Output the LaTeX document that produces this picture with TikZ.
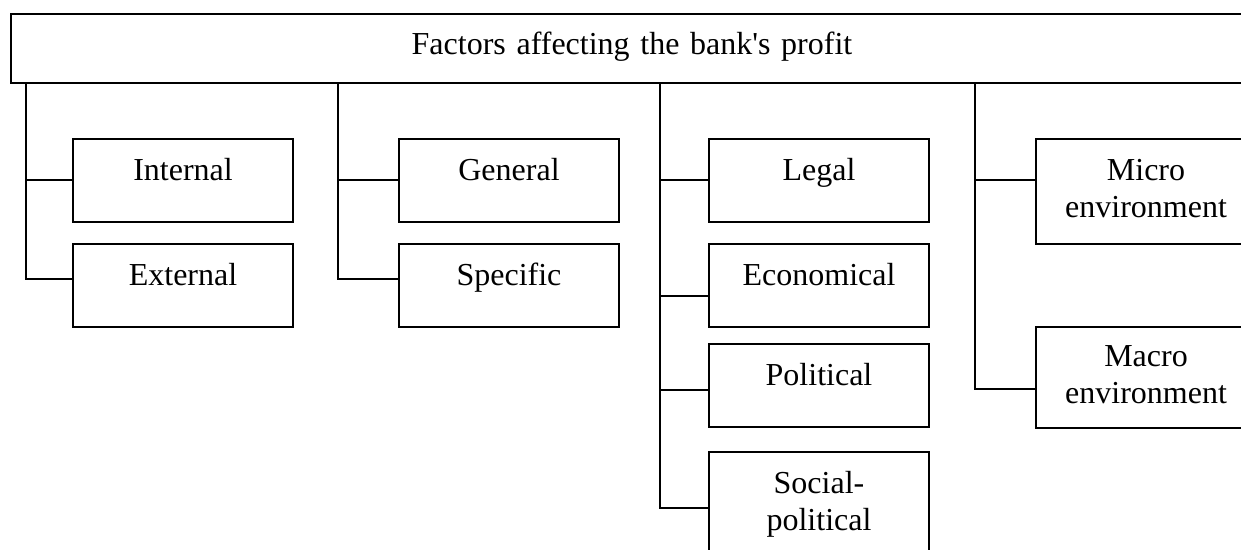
\documentclass[tikz,border=0pt]{standalone}
\usepackage{fontspec}
\setmainfont{Liberation Serif}
\begin{document}
\begin{tikzpicture}[x=1pt,y=-1pt,
  box/.style={draw, line width=2pt, anchor=north west, inner sep=0pt,
    text width=220pt, align=center, text height=41pt, text depth=#1,
    font=\fontsize{32}{37}\selectfont},
  box/.default=42pt,
  link/.style={line width=2pt}]
\clip (0,0) rectangle (1241,549);
\fill[white] (0,0) rectangle (1241,549);

% heading
\node[box=29pt, text width=1242pt, text height=40pt] (top) at (10,13)
  {Factors affecting the bank\textquotesingle s profit};

% groups of factors
\node[box] (internal) at (72,138) {Internal};
\node[box] (external) at (72,243) {External};

\node[box] (general)  at (398,138) {General};
\node[box] (specific) at (398,243) {Specific};

\node[box] (legal)  at (708,138) {Legal};
\node[box] (econ)   at (708,243) {Economical};
\node[box] (polit)  at (708,343) {Political};
\node[box=64pt] (social) at (708,451) {Social-\\political};

\node[box=64pt] (micro) at (1035,138) {Micro\\environment};
\node[box=62pt, text height=39pt] (macro) at (1035,326) {Macro\\environment};

% branch 1
\draw[link] (top.south -| 26,0) |- ([yshift=6.5pt]external.west);
\draw[link] ([yshift=0.5pt]internal.west) -- ++(-46,0);

% branch 2
\draw[link] (top.south -| 338,0) |- ([yshift=6.5pt]specific.west);
\draw[link] ([yshift=0.5pt]general.west) -- ++(-60,0);

% branch 3
\draw[link] (top.south -| 660,0) |- ([yshift=-3.5pt]social.west);
\draw[link] ([yshift=0.5pt]legal.west) -- ++(-48,0);
\draw[link] ([yshift=-10.5pt]econ.west) -- ++(-48,0);
\draw[link] ([yshift=-4.5pt]polit.west) -- ++(-48,0);

% branch 4
\draw[link] (top.south -| 975,0) |- ([yshift=-11.5pt]macro.west);
\draw[link] ([yshift=11.5pt]micro.west) -- ++(-60,0);
\end{tikzpicture}
\end{document}
